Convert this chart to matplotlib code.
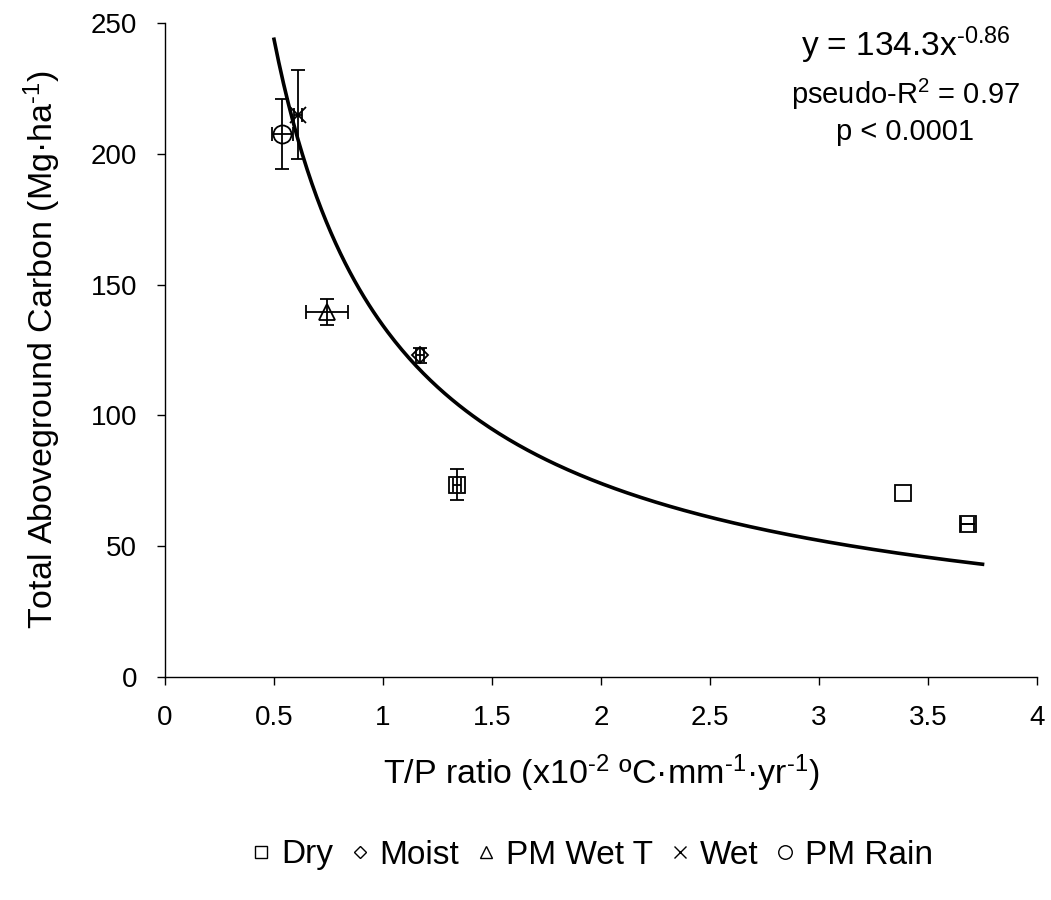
import matplotlib
matplotlib.use("Agg")
import matplotlib.pyplot as plt
import numpy as np

plt.rcParams['font.family'] = ['Liberation Sans', 'DejaVu Sans']
plt.rcParams['mathtext.fontset'] = 'custom'
plt.rcParams['mathtext.rm'] = 'Liberation Sans'
plt.rcParams['mathtext.it'] = 'Liberation Sans:italic'
plt.rcParams['mathtext.bf'] = 'Liberation Sans:bold'

HY = '\u2010'  # plain hyphen for superscripts, as in the original

# Site groups
groups = ['Dry', 'Moist', 'PM Wet T', 'Wet', 'PM Rain']
markers = ['s', 'D', '^', 'x', 'o']

# T/P ratio, carbon, and their errors for each group (0 = no bar)
tp = {
    'Dry': [1.34, 3.385, 3.683],
    'Moist': [1.17],
    'PM Wet T': [0.743],
    'Wet': [0.61],
    'PM Rain': [0.537],
}
carbon = {
    'Dry': [73.5, 70.3, 58.6],
    'Moist': [123.0],
    'PM Wet T': [139.5],
    'Wet': [215.0],
    'PM Rain': [207.5],
}
tp_err = {
    'Dry': [0.02, 0.0, 0.03],
    'Moist': [0.02],
    'PM Wet T': [0.096],
    'Wet': [0.02],
    'PM Rain': [0.048],
}
carbon_err = {
    'Dry': [5.9, 0.0, 0.0],
    'Moist': [2.9],
    'PM Wet T': [5.0],
    'Wet': [17.0],
    'PM Rain': [13.5],
}

# Power fit y = a * x^b
a, b = 134.3, -0.86
x_fit = np.linspace(0.5, 3.75, 300)
y_fit = a * x_fit ** b

fig = plt.figure(figsize=(10.51, 9), dpi=100)
ax = fig.add_axes([0.157, 0.2478, 0.8297, 0.7267])

ax.plot(x_fit, y_fit, color='black', lw=2.6, zorder=3)

sizes = {'s': 12, 'D': 8.5, '^': 11, 'x': 11, 'o': 13}
for g, m in zip(groups, markers):
    xs = np.array(tp[g])
    ys = np.array(carbon[g])
    xe = np.array(tp_err[g])
    ye = np.array(carbon_err[g])
    has = (xe > 0) | (ye > 0)
    if has.any():
        ax.errorbar(xs[has], ys[has], xerr=xe[has], yerr=ye[has],
                    fmt='none', ecolor='black', elinewidth=1.3, capsize=5,
                    capthick=1.3, zorder=4)
    ax.plot(xs, ys, linestyle='none', marker=m, ms=sizes[m], mfc='none',
            mec='black', mew=1.3, zorder=5)

ax.set_xlim(0, 4)
ax.set_ylim(0, 250)
ax.set_xticks(np.arange(0, 4.01, 0.5))
ax.set_xticklabels(['0', '0.5', '1', '1.5', '2', '2.5', '3', '3.5', '4'])
ax.set_yticks(np.arange(0, 251, 50))
ax.spines['top'].set_visible(False)
ax.spines['right'].set_visible(False)
for s in ('left', 'bottom'):
    ax.spines[s].set_linewidth(1.0)
ax.tick_params(direction='out', length=6, width=1.0, labelsize=20)
ax.tick_params(axis='x', pad=14)
ax.tick_params(axis='y', pad=14)

ax.set_xlabel('T/P ratio (x10$^{' + HY + '2}$ ºC·mm$^{' + HY + '1}$·yr$^{' + HY + '1}$)',
              fontsize=24.5, labelpad=16)
ax.set_ylabel('Total Aboveground Carbon (Mg·ha$^{' + HY + '1}$)',
              fontsize=24.5, labelpad=20)

ax.text(0.849, 0.966, 'y = 134.3x$^{' + HY + '0.86}$', transform=ax.transAxes,
        ha='center', va='center', fontsize=24)
ax.text(0.849, 0.89, 'pseudo-R$^{2}$ = 0.97', transform=ax.transAxes,
        ha='center', va='center', fontsize=21)
ax.text(0.849, 0.833, 'p < 0.0001', transform=ax.transAxes,
        ha='center', va='center', fontsize=21)

leg_handles = []
for m in markers:
    h, = ax.plot([], [], linestyle='none', marker=m, ms=sizes[m] * 0.75,
                 mfc='none', mec='black', mew=1.0)
    leg_handles.append(h)
fig.legend(leg_handles, groups, loc='center', bbox_to_anchor=(0.56, 0.05),
           ncol=5, frameon=False, fontsize=24, handletextpad=0.1,
           columnspacing=0.3, handlelength=1.0)

fig.savefig('out.png', dpi=100)
